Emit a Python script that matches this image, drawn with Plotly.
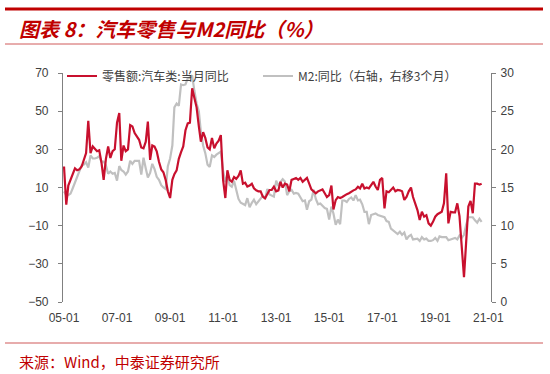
import plotly.graph_objects as go
import pandas as pd

# ---------------- data ----------------
months = pd.date_range("2005-01-01", "2020-10-01", freq="MS")

car_retail_yoy = [
    # 2005
    21, 1, 11, 14, 16.5, 20, 19, 19.5, 21, 24.5, 28, 45,
    # 2006
    28, 31.5, 30.5, 29, 29.5, 23, 14, 25, 31.5, 25.5, 29, 30,
    # 2007
    44, 49, 24, 32, 29, 30, 42.7, 42, 38.5, 36.6, 35, 31,
    # 2008
    30.5, 34, 44.5, 24.5, 32, 31.4, 29, 23.5, 19.5, 18, 14, 8,
    # 2009
    4.5, 14, 17, 19, 25, 28.5, 31.5, 40, 43.6, 44, 62, 57,
    # 2010
    52, 42, 34, 39, 36, 31, 30, 36, 30.5, 33, 34.5, 37.5,
    # 2011
    14, 4.5, 19, 14, 13, 15.5, 14.5, 16, 19, 12, 12.5, 10.5,
    # 2012
    11, 12, 9.6, 8.5, 8, 8, 5.2, 4.3, 7, 8.7, 8.7, 10.4,
    # 2013
    8, 8.5, 13, 10, 12, 11.5, 8, 14, 14.5, 15, 14, 15,
    # 2014
    13, 14, 15, 12, 9, 8, 7, 8, 8.5, 9, 7, 5,
    # 2015
    6, 11, -1.5, 3.4, 5, 4.5, 5, 6, 6.5, 7, 8, 8.5,
    # 2016
    9, 10.4, 9.5, 12, 9.5, 10, 9.5, 11, 13, 10.5, 8.7, 14,
    # 2017
    15, -1, 8, 7.5, 8.5, 10, 8, 8.7, 8.5, 8, 3.5, 5,
    # 2018
    8, 10, 5, 1.5, -1.8, -7, -2.7, -5.3, -4.5, -8.8, -10, -8,
    # 2019
    -5.3, -4, -3.5, -2.7, 1.7, 17.4, -8.8, -2.7, -3, -3, 1.7, -5,
    # 2020
    None, -37, -18, 0, 3, -3.5, 12, 12, 11.5, 12,
]

m2_yoy = [
    # 2005
    14.5, 14, 14, 14.2, 14.9, 15.7, 16.3, 17.3, 17.9, 18, 18.3, 17.6,
    # 2006
    19.2, 18.8, 18.8, 18.9, 19.1, 18.4, 18.4, 17.9, 16.8, 17.1, 16.8, 16.9,
    # 2007
    15.9, 17.8, 17.3, 17.1, 16.7, 17.1, 18.5, 18.1, 18.5, 18.5, 18.5, 16.7,
    # 2008
    18.9, 17.5, 16.3, 16.9, 18.1, 17.4, 16.4, 16, 15.3, 15, 14.8, 17.8,
    # 2009
    18.8, 20.5, 25.5, 26, 25.7, 28.5, 28.4, 28.5, 29.3, 29.4, 29.7, 27.7,
    # 2010
    26, 25, 22.3, 20.5, 19.5, 18, 17.7, 19.2, 19, 19.3, 19.5, 19.7,
    # 2011
    17.2, 15.7, 16.6, 15.3, 15.1, 15.9, 14.7, 13.5, 13, 12.9, 12.7, 13.6,
    # 2012
    12.4, 13, 13.4, 12.8, 13.2, 13.6, 13.9, 13.5, 14.8, 14.1, 13.9, 13.8,
    # 2013
    15.9, 15.2, 15.7, 16.1, 15.8, 14, 14.5, 14.7, 14.2, 14.3, 14.2, 13.6,
    # 2014
    13.2, 13.3, 12.1, 13.2, 13.4, 14.7, 13.5, 12.8, 12.9, 12.6, 12.3, 12.2,
    # 2015
    10.8, 12.5, 11.6, 10.1, 10.8, 10.2, 13.3, 13.3, 13.1, 13.5, 13.7, 13.3,
    # 2016
    14, 13.3, 13.4, 12.8, 11.8, 11.8, 10.2, 11.4, 11.5, 11.6, 11.4, 11.3,
    # 2017
    11.3, 11.1, 10.6, 10.5, 9.6, 9.4, 9.2, 8.9, 9.2, 8.8, 9.1, 8.2,
    # 2018
    8.6, 8.8, 8.2, 8.3, 8.3, 8, 8.5, 8.2, 8.3, 8, 8, 8.1,
    # 2019
    8.4, 8, 8.6, 8.5, 8.5, 8.5, 8.1, 8.2, 8.4, 8.4, 8.2, 8.7,
    # 2020
    8.4, 8.8, 10.1, 11.1, 11.1, 11.1, 10.7, 10.4, 10.9, 10.5,
]

x_tickvals = ["2005-01-01", "2007-01-01", "2009-01-01", "2011-01-01", "2013-01-01",
              "2015-01-01", "2017-01-01", "2019-01-01", "2021-01-01"]
x_ticktext = ["05-01", "07-01", "09-01", "11-01", "13-01", "15-01", "17-01", "19-01", "21-01"]
left_ticks = [-50, -30, -10, 10, 30, 50, 70]
right_ticks = [0, 5, 10, 15, 20, 25, 30]

red_name = "零售额:汽车类:当月同比"
gray_name = "M2:同比（右轴，右移3个月）"
title_text = "图表 8：汽车零售与M2同比（%）"
source_text = "来源：Wind，中泰证券研究所"

# ---------------- geometry helpers ----------------
W, H = 550, 374
PL, PR, PT, PB = 63, 491, 73, 302


def px_x(px):
    return (px - PL) / (PR - PL)


def px_y(py):
    return (PB - py) / (PB - PT)


RED = "#C8102E"
GRAY = "#C0C0C0"
AXIS = "#808080"
TXT = "#404040"
TITLE_RED = "#C00000"
xrange = ["2004-12-18", "2021-02-07"]

fig = go.Figure()
fig.add_trace(go.Scatter(
    x=months, y=m2_yoy, name=gray_name, mode="lines",
    line=dict(color=GRAY, width=2.2), yaxis="y", legend="legend2",
))
fig.add_trace(go.Scatter(
    x=months, y=car_retail_yoy, name=red_name, mode="lines",
    line=dict(color=RED, width=2.2), yaxis="y2", connectgaps=True, legend="legend",
))

tickfont = dict(family="Liberation Sans, Arial, sans-serif", size=12, color=TXT)

fig.update_layout(
    width=W, height=H,
    margin=dict(l=PL, r=W - PR, t=PT, b=H - PB, pad=0),
    paper_bgcolor="white", plot_bgcolor="white",
    showlegend=True,
    xaxis=dict(
        range=xrange, type="date", anchor="y",
        tickvals=x_tickvals, ticktext=x_ticktext,
        showline=False, showgrid=False, zeroline=False,
        ticks="outside", ticklen=5, tickcolor="rgba(0,0,0,0)",
        tickfont=tickfont,
    ),
    xaxis2=dict(
        range=xrange, type="date", overlaying="x", matches="x",
        anchor="free", position=50 / 120, side="bottom",
        tickvals=x_tickvals, showticklabels=False,
        showline=True, linecolor=AXIS, linewidth=1.2,
        ticks="outside", ticklen=4, tickcolor=AXIS, tickwidth=1.2,
        showgrid=False, zeroline=False,
    ),
    yaxis=dict(
        range=[0, 30], side="right", anchor="x",
        tickvals=right_ticks,
        showline=True, linecolor=AXIS, linewidth=1.2,
        ticks="outside", ticklen=4, tickcolor=AXIS, tickwidth=1.2,
        showgrid=False, zeroline=False, tickfont=tickfont,
        ticklabelstandoff=2,
    ),
    yaxis2=dict(
        range=[-50, 70], side="left", overlaying="y", anchor="x",
        tickvals=left_ticks,
        showline=True, linecolor=AXIS, linewidth=1.2,
        ticks="outside", ticklen=4, tickcolor=AXIS, tickwidth=1.2,
        showgrid=False, zeroline=False, tickfont=tickfont,
        ticklabelstandoff=7,
    ),
    legend=dict(
        x=px_x(62), y=px_y(76), xanchor="left", yanchor="middle",
        orientation="h", bgcolor="rgba(0,0,0,0)", borderwidth=0,
        font=dict(family="Noto Sans CJK SC", size=12, color=TXT),
        itemwidth=30,
    ),
    legend2=dict(
        x=px_x(258), y=px_y(76), xanchor="left", yanchor="middle",
        orientation="h", bgcolor="rgba(0,0,0,0)", borderwidth=0,
        font=dict(family="Noto Sans CJK SC", size=12, color=TXT),
        itemwidth=30,
    ),
    shapes=[
        dict(type="line", xref="paper", yref="paper",
             x0=px_x(5), x1=px_x(543), y0=px_y(9), y1=px_y(9),
             line=dict(color=TITLE_RED, width=3)),
        dict(type="line", xref="paper", yref="paper",
             x0=px_x(5), x1=px_x(543), y0=px_y(44), y1=px_y(44),
             line=dict(color="#D05A5A", width=1)),
        dict(type="line", xref="paper", yref="paper",
             x0=px_x(5), x1=px_x(543), y0=px_y(343), y1=px_y(343),
             line=dict(color="#D05A5A", width=1.2)),
    ],
    annotations=[
        dict(text="<b><i>" + title_text + "</i></b>", xref="paper", yref="paper",
             x=px_x(17), y=px_y(28), xanchor="left", yanchor="middle",
             showarrow=False,
             font=dict(family="Noto Sans CJK SC", size=20, color=TITLE_RED)),
        dict(text=source_text, xref="paper", yref="paper",
             x=px_x(17), y=px_y(361), xanchor="left", yanchor="middle",
             showarrow=False,
             font=dict(family="Noto Sans CJK SC", size=15, color=TITLE_RED)),
    ],
)

fig.write_html(
    "out.html",
    config={"displayModeBar": False},
    post_script="document.body.style.margin='0';document.body.style.padding='0';",
)
